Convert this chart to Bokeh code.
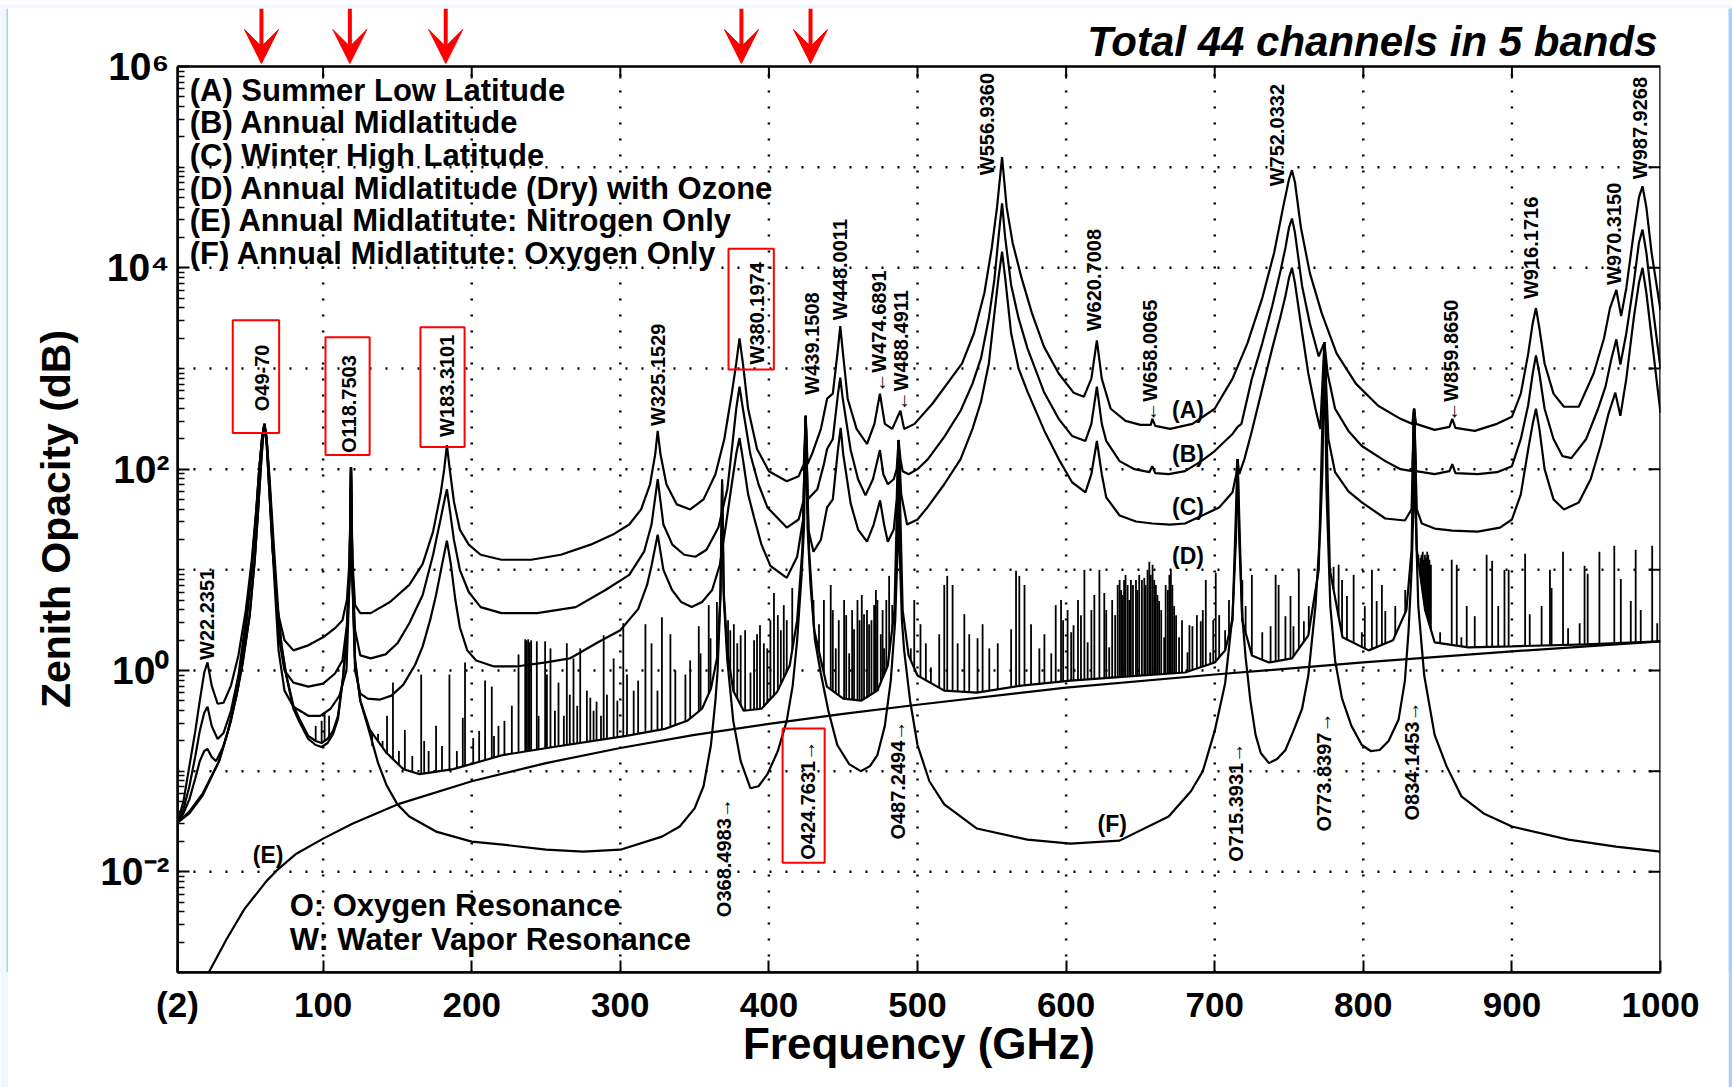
import numpy as np
from bokeh.plotting import figure
from bokeh.layouts import column, row
from bokeh.models import Range1d, FixedTicker, Arrow, VeeHead, ColumnDataSource
from bokeh.core.properties import value
from bokeh.embed import file_html
from bokeh.resources import INLINE

# ---------------- data (log10 of zenith opacity) ----------------
a_freq = [2, 6, 10, 14, 17, 20, 22.2, 25, 29, 33, 38, 43, 48, 52, 55, 57, 59, 60.5, 62, 64,
          67, 70, 74, 80, 90, 100, 108, 113, 116, 117.8, 118.75, 119.7, 121.5, 125, 132, 145,
          158, 167, 174, 179, 181.5, 183.3, 185.2, 188, 192, 198, 206, 220, 240, 260, 280, 295,
          306, 314, 320, 323.5, 325.15, 327, 331, 338, 347, 356, 364, 370, 375, 378, 380.2,
          382.5, 386, 392, 400, 412, 420, 423.5, 424.76, 426, 429, 435, 439.15, 443, 446.5, 448,
          449.5, 453, 459, 466, 471, 474.7, 478, 483, 486, 488.5, 491, 498, 510, 520, 530, 538,
          545, 550, 553.5, 556.9, 560, 564, 570, 577, 585, 595, 605, 612, 617, 620.7, 624, 630,
          640, 650, 657, 658, 660, 670, 685, 700, 712, 722, 732, 740, 746, 750, 752, 754, 758,
          764, 772, 782, 795, 810, 825, 833, 834.15, 835.5, 848, 858, 859.9, 862, 875, 890, 900,
          906, 911, 914, 916.2, 918.5, 922, 928, 935, 945, 955, 962, 966, 970.3, 973.5, 977,
          982, 985.5, 987.9, 990.5, 994, 1000]
a_log = [-1.51, -1.3, -0.95, -0.6, -0.3, -0.02, 0.08, -0.15, -0.33, -0.32, -0.15, 0.15, 0.6,
         1.1, 1.6, 2.0, 2.32, 2.45, 2.3, 1.9, 1.2, 0.55, 0.3, 0.2, 0.25, 0.33, 0.42, 0.5, 0.7,
         1.1, 2.02, 1.1, 0.65, 0.57, 0.57, 0.68, 0.85, 1.06, 1.38, 1.75, 2.0, 2.24, 2.0, 1.68,
         1.4, 1.25, 1.15, 1.1, 1.1, 1.15, 1.25, 1.35, 1.45, 1.6, 1.85, 2.15, 2.38, 2.15, 1.85,
         1.65, 1.6, 1.7, 1.95, 2.3, 2.75, 3.05, 3.3, 3.05, 2.6, 2.2, 1.98, 1.88, 1.93, 2.05, 2.53,
         2.05, 2.15, 2.4, 2.7, 2.75, 3.2, 3.42, 3.2, 2.7, 2.4, 2.25, 2.45, 2.75, 2.45, 2.4, 2.5,
         2.58, 2.4, 2.45, 2.65, 2.85, 3.05, 3.35, 3.75, 4.2, 4.6, 5.1, 4.6, 4.25, 3.9, 3.55,
         3.22, 2.95, 2.76, 2.72, 2.9, 3.28, 2.9, 2.6, 2.48, 2.44, 2.44, 2.5, 2.43, 2.4, 2.45,
         2.6, 2.9, 3.25, 3.7, 4.15, 4.6, 4.88, 4.97, 4.85, 4.4, 3.95, 3.55, 3.15, 2.85, 2.63,
         2.5, 2.45, 2.6, 2.45, 2.39, 2.42, 2.5, 2.41, 2.38, 2.45, 2.52, 2.75, 3.15, 3.45, 3.6,
         3.4, 3.05, 2.75, 2.62, 2.62, 2.95, 3.3, 3.6, 3.78, 3.52, 3.8, 4.35, 4.7, 4.81, 4.6,
         4.15, 3.58]

b_freq = [2, 6, 10, 14, 17, 20, 22.2, 25, 29, 33, 38, 43, 48, 52, 55, 57, 59, 60.5, 62, 64,
          67, 70, 74, 80, 90, 100, 108, 113, 116, 117.8, 118.75, 119.7, 121.5, 125, 132, 142,
          150, 158, 167, 174, 179, 181.5, 183.3, 185.2, 188, 192, 198, 206, 220, 244, 270, 290,
          306, 316, 321, 325.15, 329, 335, 343, 350.5, 358, 366, 372, 375, 378, 380.2, 382.5,
          387.6, 393, 399, 412, 420, 423.5, 424.76, 426, 432.6, 437, 439.15, 443, 446.5, 448,
          449.5, 455, 460, 465, 470, 474.7, 477, 480, 484, 486, 487.25, 488.5, 490, 494, 500,
          507, 518, 529, 537, 542.7, 548, 551.7, 554.5, 556.9, 559, 563, 568, 574, 585, 595, 604,
          613, 617, 620.7, 624, 627, 636, 646, 656, 658, 660, 669, 680, 691, 700, 707, 712,
          715.4, 718, 725, 732, 738.7, 744, 747.6, 750, 752, 754, 758.8, 764, 770, 773.84, 776,
          781, 790, 799, 814.8, 825, 833, 834.15, 835.5, 848, 858, 859.9, 862, 877, 890, 900,
          906, 911, 914, 916.2, 918.5, 922, 928, 934, 940, 950, 958, 963, 967, 970.3, 973, 977,
          982, 985.5, 987.9, 990.5, 994, 1000]
b_log = [-1.51, -1.38, -1.15, -0.85, -0.6, -0.42, -0.36, -0.55, -0.68, -0.62, -0.4, -0.05,
         0.5, 1.05, 1.58, 2.0, 2.32, 2.45, 2.3, 1.85, 1.05, 0.35, 0.0, -0.12, -0.16, -0.13,
         -0.03, 0.1, 0.45, 1.0, 2.02, 1.0, 0.4, 0.15, 0.12, 0.16, 0.27, 0.47, 0.75, 1.15, 1.5,
         1.68, 1.8, 1.6, 1.3, 1.0, 0.78, 0.63, 0.57, 0.57, 0.63, 0.8, 0.95, 1.18, 1.45, 1.9,
         1.45, 1.25, 1.15, 1.13, 1.2, 1.42, 1.8, 2.19, 2.6, 2.82, 2.6, 2.14, 1.85, 1.62, 1.42,
         1.5, 1.7, 2.53, 1.7, 1.8, 2.05, 2.2, 2.3, 2.75, 2.91, 2.72, 2.19, 1.9, 1.74, 1.9, 2.19,
         1.95, 1.85, 1.9, 2.0, 2.29, 2.1, 1.98, 1.95, 2.0, 2.1, 2.32, 2.58, 2.85, 3.1, 3.5, 3.88,
         4.3, 4.64, 4.3, 3.83, 3.5, 3.2, 2.77, 2.5, 2.33, 2.28, 2.45, 2.82, 2.45, 2.28, 2.08,
         2.0, 1.97, 2.03, 1.96, 1.95, 1.98, 2.08, 2.18, 2.28, 2.35, 2.42, 2.45, 2.9, 3.25, 3.62,
         3.95, 4.2, 4.4, 4.49, 4.35, 3.82, 3.45, 3.12, 3.26, 2.95, 2.6, 2.38, 2.23, 2.08, 2.0,
         1.98, 2.6, 1.98, 1.95, 1.98, 2.05, 1.96, 1.95, 1.97, 2.03, 2.3, 2.64, 2.95, 3.13, 2.95,
         2.6, 2.3, 2.13, 2.11, 2.3, 2.6, 2.82, 3.1, 3.29, 3.04, 3.35, 3.85, 4.25, 4.38, 4.15,
         3.7, 3.0]

c_freq = [2, 6, 10, 14, 17, 20, 22.2, 25, 28, 33, 38, 43, 48, 52, 55, 57, 59, 60.5, 62, 64,
          67, 70, 74, 80, 90, 98, 105, 111, 115.7, 117.8, 118.75, 119.7, 121.5, 125, 130, 138,
          146, 154, 162, 167, 172, 176, 180, 183.3, 186, 189, 192, 197, 203, 215, 230, 250, 266,
          285, 300, 312, 318, 321, 325.15, 329, 334.8, 341, 348, 355, 361.8, 367, 370.8, 375,
          378, 380.2, 382.5, 386, 390, 395, 401, 412, 419, 423, 424.76, 426.5, 430, 435, 439.15,
          443, 446.5, 448.3, 450, 455, 460, 466, 470.5, 474.8, 477.5, 480, 484, 486, 487.25, 489,
          493, 500, 506.7, 518, 529, 537, 542.7, 548, 551.7, 554.5, 556.9, 559, 563, 568, 574,
          585.4, 595, 604, 613, 617, 620.7, 624, 627, 636, 647, 658, 670, 680, 693, 703, 712,
          714.5, 715.4, 716.5, 720, 725, 732, 738.7, 744, 747.6, 750, 752, 754, 758.8, 763,
          767.8, 771, 773.84, 776.5, 781, 790, 799, 814.8, 828, 832.5, 834.15, 836, 839.4, 848,
          860, 877, 892, 900, 906, 911, 914, 916.2, 918.5, 922, 928, 935, 945, 953, 960, 965,
          969.6, 973, 977, 982, 985.5, 987.9, 990.5, 994, 1000]
c_log = [-1.51, -1.42, -1.28, -1.07, -0.9, -0.8, -0.78, -0.86, -0.9, -0.75, -0.5, -0.15, 0.4,
         1.0, 1.55, 2.0, 2.32, 2.45, 2.3, 1.8, 0.95, 0.2, -0.2, -0.36, -0.45, -0.45, -0.38,
         -0.25, 0.0, 0.9, 2.02, 0.9, 0.0, -0.23, -0.28, -0.29, -0.25, -0.14, 0.06, 0.24, 0.5,
         0.75, 1.05, 1.29, 1.05, 0.7, 0.43, 0.2, 0.1, 0.04, 0.04, 0.08, 0.12, 0.28, 0.4, 0.61,
         0.85, 1.04, 1.35, 1.0, 0.8, 0.68, 0.63, 0.68, 0.8, 1.05, 1.42, 1.85, 2.15, 2.31, 2.1,
         1.75, 1.52, 1.25, 1.04, 0.92, 1.13, 1.5, 2.53, 1.4, 1.18, 1.3, 1.62, 1.7, 2.2, 2.41,
         2.15, 1.66, 1.4, 1.28, 1.45, 1.69, 1.45, 1.28, 1.4, 1.7, 2.29, 1.75, 1.45, 1.5, 1.62,
         1.85, 2.1, 2.4, 2.67, 3.05, 3.54, 3.9, 4.16, 3.9, 3.35, 3.0, 2.77, 2.38, 2.1, 1.87,
         1.77, 1.95, 2.28, 1.95, 1.72, 1.54, 1.48, 1.46, 1.45, 1.46, 1.55, 1.62, 1.77, 1.95,
         2.1, 1.95, 2.1, 2.38, 2.8, 3.2, 3.5, 3.72, 3.9, 4.0, 3.85, 3.36, 2.95, 2.6, 2.4, 3.26,
         2.3, 1.97, 1.78, 1.67, 1.51, 1.49, 1.6, 2.6, 1.6, 1.46, 1.41, 1.39, 1.38, 1.42, 1.5,
         1.75, 2.2, 2.45, 2.6, 2.4, 2.0, 1.7, 1.6, 1.67, 1.9, 2.25, 2.55, 2.76, 2.53, 2.9, 3.5,
         3.85, 4.0, 3.75, 3.31, 2.56]

d_freq = [2, 10, 19, 30, 36, 41.6, 46, 50.6, 54, 56, 58, 59.5, 60.5, 62, 64, 66, 68.5, 72, 75,
          80, 84, 90, 95, 99, 103, 106.7, 110, 113.5, 116, 117.8, 118.75, 119.7, 121.5, 125,
          131.5, 142.7, 154, 165, 187.6, 221, 255, 304, 330, 345, 355, 361, 365.4, 367.5, 368.5,
          369.5, 372, 376, 383, 395, 405.6, 414, 419, 422.5, 424.76, 427, 430.5, 439, 450, 462,
          473, 480, 484.5, 487.25, 490, 494, 500, 518, 540, 570, 603, 640, 680, 700, 707, 712,
          715.4, 718.5, 725, 736.5, 752, 763, 770, 773.84, 777.5, 786, 803.6, 820, 829, 832.5,
          834.15, 836, 841.6, 848, 870.7, 900, 950, 1000]
d_log = [-1.51, -1.4, -1.22, -0.9, -0.6, -0.24, 0.1, 0.55, 1.1, 1.53, 2.0, 2.31, 2.45, 2.25,
         1.73, 1.2, 0.75, 0.25, -0.03, -0.35, -0.48, -0.65, -0.7, -0.72, -0.68, -0.6, -0.45,
         -0.05, 0.4, 0.95, 2.02, 0.95, 0.1, -0.3, -0.59, -0.82, -0.98, -1.03, -0.98, -0.84,
         -0.76, -0.65, -0.58, -0.5, -0.38, -0.18, 0.15, 0.8, 1.85, 0.8, 0.2, -0.2, -0.4, -0.38,
         -0.21, 0.05, 0.5, 1.2, 2.53, 1.2, 0.4, -0.16, -0.28, -0.3, -0.2, 0.05, 0.6, 2.29, 0.6,
         0.15, -0.05, -0.2, -0.22, -0.15, -0.1, -0.06, -0.02, 0.08, 0.2, 0.5, 2.1, 0.5, 0.15,
         0.08, 0.12, 0.35, 1.0, 3.26, 1.0, 0.33, 0.2, 0.3, 0.6, 1.2, 2.6, 1.2, 0.6, 0.28, 0.23,
         0.24, 0.26, 0.29]

e_freq = [23, 35, 47, 62, 70, 82, 100, 120, 150, 200, 250, 300, 350, 400, 450, 500, 600, 700,
          800, 900, 1000]
e_log = [-3.0, -2.67, -2.37, -2.09, -1.97, -1.82, -1.67, -1.52, -1.33, -1.1, -0.92, -0.77,
         -0.64, -0.53, -0.43, -0.34, -0.17, -0.04, 0.08, 0.19, 0.29]

f_freq = [2, 10, 19, 30, 36, 41.6, 46, 50.6, 54, 56, 58, 59.5, 60.5, 62, 64, 66, 68.5, 72, 75,
          80, 84, 90, 95, 99, 103, 106.7, 110, 113.5, 116, 117.8, 118.75, 119.7, 121.5, 125,
          131.5, 137, 142.7, 150, 158, 176, 200, 221, 250, 275, 300, 328, 340, 350, 356, 361,
          364, 365.4, 367.3, 368.5, 369.7, 372, 376, 381, 387.6, 393, 399, 406, 412, 416, 419,
          422, 423.6, 424.76, 426, 428, 431, 434.8, 440, 446, 454, 461.8, 468, 473, 478, 482,
          485, 486.5, 487.25, 488, 489.5, 491, 495, 500, 508, 518, 540, 574, 603, 636, 669, 684,
          692, 700, 707, 712, 714.3, 715.4, 716.5, 718.5, 720.8, 724, 727.5, 731, 736.5, 742,
          747.6, 753, 758.8, 763, 767.8, 771, 772.5, 773.84, 775.2, 777.8, 781, 785.7, 792, 799,
          805, 811, 817, 823.7, 828, 830.4, 832.5, 833.8, 834.15, 835, 837, 841, 848, 856, 866,
          881, 900, 938, 970, 1000]
f_log = [-1.51, -1.42, -1.24, -0.9, -0.6, -0.26, 0.08, 0.55, 1.1, 1.53, 2.0, 2.31, 2.45, 2.25,
         1.73, 1.2, 0.75, 0.25, -0.04, -0.38, -0.51, -0.68, -0.74, -0.76, -0.72, -0.63, -0.48,
         -0.06, 0.4, 0.95, 2.02, 0.95, 0.1, -0.3, -0.63, -0.92, -1.14, -1.33, -1.45, -1.6,
         -1.7, -1.73, -1.78, -1.8, -1.78, -1.65, -1.55, -1.37, -1.15, -0.74, -0.3, -0.02, 0.7,
         1.9, 0.7, 0.1, -0.5, -0.9, -1.17, -1.15, -1.03, -0.8, -0.5, -0.15, 0.3, 0.95, 1.42,
         2.53, 1.42, 0.85, 0.3, -0.02, -0.4, -0.74, -0.93, -1.0, -0.95, -0.84, -0.55, -0.1, 0.5,
         1.18, 2.29, 1.18, 0.5, 0.2, -0.3, -0.74, -1.1, -1.33, -1.57, -1.68, -1.72, -1.69,
         -1.45, -1.2, -1.0, -0.6, -0.13, 0.55, 1.3, 2.1, 1.3, 0.55, 0.13, -0.3, -0.64, -0.82,
         -0.92, -0.88, -0.79, -0.6, -0.38, -0.05, 0.64, 1.4, 2.0, 3.26, 1.8, 0.64, 0.1, -0.28,
         -0.55, -0.74, -0.8, -0.79, -0.7, -0.49, -0.1, 0.38, 1.0, 1.67, 2.6, 1.67, 0.64, -0.05,
         -0.64, -0.95, -1.25, -1.42, -1.55, -1.68, -1.75, -1.8]

# ozone lines of curve (D): line frequency and log10 of peak
ozone_freq = [95, 99, 101, 104, 133, 137, 140, 143, 147, 151,
              155, 160, 166, 168, 171, 176, 180, 185, 190, 194,
              195.5, 201, 205, 209, 213.5, 215, 218, 222, 227, 231.5,
              236, 237, 238, 239, 240, 243.8, 245, 249.4, 250.6, 253,
              256, 258.4, 262, 264, 266, 268.5, 271, 273, 277.5, 279.8,
              282, 284, 287, 288.8, 291, 295.5, 298, 302, 304.5, 309,
              312, 316.9, 321, 325, 328, 333.7, 337, 343.8, 347, 352.8,
              354, 359.5, 360.7, 365, 376.4, 378.7, 387.6, 392, 396.6, 398.9,
              403.4, 410, 415.7, 430, 433.7, 437, 441.6, 445, 450.6, 454,
              457.3, 459.6, 464, 467.4, 470.8, 473, 475.3, 477.5, 480.9, 483,
              495.5, 497.8, 502, 505.6, 509, 514.6, 518, 520, 523.6, 527,
              531.5, 534.8, 540.4, 543.8, 548.3, 554, 563, 566.3, 568.5, 572,
              576.4, 582, 585.4, 590, 593, 596.6, 603.4, 612.3, 614.5, 622.4,
              625.7, 629, 634.7, 637, 639, 641.4, 643.6, 647, 649.2, 652.6,
              654.8, 656, 658.2, 660.4, 662.6, 666, 667, 670.5, 672.7, 676,
              681.7, 685, 690.6, 694, 697, 700.7, 707, 709.6, 718.6, 720.8,
              725, 732, 737.6, 741, 743, 747.6, 751, 753, 756.6, 760,
              763.3, 780, 783.4, 785.7, 789, 793.5, 799, 801, 805.8, 809,
              812.5, 814.8, 821.5, 828.2, 837, 838.5, 840, 841.5, 843, 844.5,
              851.7, 859.5, 862.9, 866, 869.6, 875, 883, 886.7, 890.8, 895,
              897.8, 908.9, 912, 920, 925.6, 926.7, 934.4, 937.8, 945.6, 948.9,
              951, 958.9, 968.9, 973.3, 980, 983.3, 986.7, 994.4, 997.8,
              372.5, 374, 381, 384, 390, 394, 401, 406, 408, 412,
              443, 447, 452, 456, 461, 462.5, 466, 469, 472, 476.5,
              479, 598, 601, 605, 608, 610, 617, 619, 627, 631,
              633, 636, 638, 640, 642.5, 645, 648, 651, 653.5, 657,
              659.3, 661.5, 664, 668.5, 669.5, 671.5, 674, 678, 683, 688,
              692, 699, 703, 836.5, 839.2, 840.7, 842.2, 843.7, 845.5]
ozone_log = [-0.55, -0.5, -0.42, -0.45, -0.75, -0.63, -0.7, -0.45, -0.12, -0.8,
             -0.59, -0.85, -0.04, -0.7, -0.8, -0.55, -0.75, -0.04, -0.8, -0.47,
             0.08, -0.67, -0.6, -0.1, -0.16, -0.65, -0.55, -0.5, -0.35, 0.16,
             0.31, 0.3, 0.31, 0.28, 0.3, 0.29, -0.45, 0.29, -0.04, 0.22,
             -0.4, -0.12, -0.45, 0.27, -0.24, 0.12, -0.35, 0.22, -0.2, -0.27,
             -0.4, -0.31, -0.45, 0.35, -0.24, 0.12, -0.3, 0.47, -0.04, -0.2,
             -0.1, 0.46, 0.27, -0.2, 0.53, 0.36, 0.0, -0.04, 0.1, 0.44,
             0.17, 0.65, 0.32, 0.68, 0.46, 0.27, -0.02, 0.36, 0.27, 0.22,
             0.77, 0.65, 0.82, 0.7, 0.46, 0.7, 0.85, 0.22, 0.7, 0.17,
             0.41, 0.7, 0.56, 0.46, 0.65, 0.7, 0.36, 0.22, 0.94, 0.65,
             0.22, 0.7, 0.46, 0.27, 0.03, 0.36, 0.85, 0.94, 0.85, 0.27,
             0.56, 0.36, 0.32, 0.46, 0.22, 0.27, 0.41, 0.99, 0.94, 0.85,
             0.46, 0.22, 0.36, 0.17, 0.65, 0.7, 0.38, 1.0, 0.28, 1.0,
             0.77, 0.23, 0.85, 0.8, 0.9, 0.85, 0.9, 0.9, 0.95, 0.92,
             1.0, 1.08, 1.05, 0.85, 0.69, 0.33, 0.85, 1.0, 0.64, 0.33,
             0.18, 0.44, 0.49, 0.9, 0.18, 0.97, 0.4, 0.7, 0.9, 0.64,
             0.95, 0.38, 0.44, 0.95, 0.85, 0.54, 0.74, 0.44, 1.0, 0.49,
             0.64, 1.03, 1.05, 0.9, 0.74, 0.95, 0.38, 0.64, 1.0, 0.69,
             0.85, 0.59, 0.64, 0.8, 1.15, 1.12, 1.18, 1.15, 1.18, 1.1,
             0.38, 1.1, 1.05, 0.33, 0.64, 0.54, 1.15, 1.09, 0.64, 1.0,
             1.0, 1.16, 0.56, 0.64, 1.0, 0.82, 1.18, 0.42, 0.47, 1.04,
             0.96, 1.18, 1.24, 0.91, 0.69, 1.2, 0.6, 1.24, 0.47,
             0.5, 0.4, 0.35, 0.4, 0.3, 0.45, 0.5, 0.55, 0.4, 0.5,
             0.6, 0.5, 0.55, 0.6, 0.5, 0.75, 0.6, 0.5, 0.8, 0.6,
             0.7, 0.5, 0.6, 0.45, 0.7, 0.55, 0.6, 0.75, 0.6, 0.7,
             0.55, 0.9, 0.75, 0.95, 0.7, 0.85, 0.8, 0.9, 0.85, 0.95,
             0.9, 0.75, 0.6, 0.8, 0.95, 0.85, 0.55, 0.5, 0.45, 0.55,
             0.6, 0.5, 0.55, 1.1, 1.15, 1.1, 1.12, 1.15, 1.05]

x_ticks = [2, 100, 200, 300, 400, 500, 600, 700, 800, 900, 1000]
x_grid = [100, 200, 300, 400, 500, 600, 700, 800, 900]
y_labelled = [1e-2, 1, 1e2, 1e4, 1e6]
y_grid = [1e-2, 1e-1, 1, 10, 100, 1e3, 1e4, 1e5]

legend_lines = ["(A) Summer Low Latitude", "(B) Annual Midlatitude", "(C) Winter High Latitude",
                "(D) Annual Midlatitude (Dry) with Ozone", "(E) Annual Midlatitute: Nitrogen Only",
                "(F) Annual Midlatitute: Oxygen Only"]

line_labels = ["W22.2351", "O49-70", "O118.7503", "W183.3101", "W325.1529", "W380.1974",
               "W439.1508", "W448.0011", "\u2190W474.6891", "\u2190W488.4911", "W556.9360",
               "W620.7008", "\u2190W658.0065", "W752.0332", "\u2190W859.8650", "W916.1716",
               "W970.3150", "W987.9268", "O368.4983\u2192", "O424.7631\u2192", "O487.2494\u2192",
               "O715.3931\u2192", "O773.8397\u2192", "O834.1453\u2192"]
label_freq = [22.1, 59.2, 117.2, 183.3, 325.2, 392.1, 429.3, 447.9, 473.9, 488.7, 546.7, 618.8,
              656.7, 742.1, 858.8, 913.1, 968.8, 985.9, 369.8, 426.3, 487.2, 714.6, 773.3, 832.8]
label_log = [0.105, 2.575, 2.16, 2.32, 2.43, 3.04, 2.74, 3.48, 2.76, 2.575, 4.92, 3.37, 2.47,
             4.81, 2.47, 3.69, 3.83, 4.88, -2.45, -1.88, -1.68, -1.9, -1.6, -1.49]

curve_tags = ["(A)", "(B)", "(C)", "(D)", "(E)", "(F)"]
tag_freq = [682, 682, 682, 682, 63, 631]
tag_log = [2.59, 2.15, 1.62, 1.14, -1.83, -1.52]

# highlighted channels (red boxes round labels; red arrows on top)
box_left = [39.2, 101.6, 165.5, 372.8, 409.2]
box_right = [70.4, 131.3, 195.2, 403.3, 437.5]
box_bottom = [2.36, 2.14, 2.22, 2.99, -1.91]
box_top = [3.48, 3.31, 3.41, 4.19, -0.575]
arrow_freq = [58.5, 118.0, 182.5, 381.5, 428.0]

# ---------------- geometry ----------------
W, H = 1732, 1087
EDGE_L, EDGE_T, EDGE_R = 8, 8, 4          # page frame strips
LEFT, RIGHT, TOP, BOTTOM = 177, 72, 66, 115  # box position in the page
FN = "Liberation Sans"
FONT = value(FN)
XPX = (W - LEFT - RIGHT) / 998.0          # px per GHz
YPX = (H - TOP - BOTTOM) / 9.0            # px per decade
LIGHT, EDGE = "#f1f7ff", "#a9cff6"
NB = "\u00a0"


def cx(px):      # page x pixel -> data x
    return 2 + (px - LEFT) / XPX


def cy(py):      # page y pixel -> data y
    return 10.0 ** (6 - (py - TOP) / YPX)


def lv(a):
    return 10.0 ** np.asarray(a, dtype=float)


# ---------------- main figure ----------------
PW, PH = W - EDGE_L - EDGE_R, H - EDGE_T
p = figure(width=PW, height=PH, x_range=Range1d(2, 1000), y_range=Range1d(1e-3, cy(EDGE_T)),
           y_axis_type="log", output_backend="svg", toolbar_location=None, title=None,
           min_border_left=LEFT - EDGE_L, min_border_right=W - EDGE_R - (W - RIGHT),
           min_border_top=0, min_border_bottom=BOTTOM,
           background_fill_color="white", border_fill_color="white")
p.outline_line_color = None
p.xgrid.visible = False
p.ygrid.visible = False

minor = ([10.0 ** n for n in (-3, -1, 1, 3, 5)] +
         [k * 10.0 ** n for n in range(-3, 6) for k in range(2, 10)])
ylabels = {1e-2: "10\u207b\u00b2", 1: "10\u2070", 100: "10\u00b2", 1e4: "10\u2074",
           1e6: "10\u2076"}

xa = p.xaxis[0]
xa.ticker = FixedTicker(ticks=x_ticks)
xa.major_label_overrides = {2: "(2)"}
xa.bounds = (2, 1000)
ya = p.yaxis[0]
ya.ticker = FixedTicker(ticks=y_labelled, minor_ticks=minor)
ya.major_label_overrides = ylabels
ya.bounds = (1e-3, 1e6)

for ax in (xa, ya):
    ax.axis_line_width = 2.5
    ax.major_tick_in = 12
    ax.major_tick_out = 0
    ax.minor_tick_in = 7
    ax.minor_tick_out = 0
    ax.major_tick_line_width = 2
    ax.minor_tick_line_width = 1.5
    ax.major_label_text_font = FN
    ax.major_label_text_font_style = "bold"
    ax.major_label_text_color = "black"
    ax.axis_label_text_font = FN
    ax.axis_label_text_font_style = "bold"
    ax.axis_label_text_color = "black"

xa.major_label_text_font_size = "35px"
xa.major_label_standoff = 12
xa.axis_label = "Frequency (GHz)"
xa.axis_label_text_font_size = "44px"
xa.axis_label_standoff = -8
ya.major_label_text_font_size = "39px"
ya.major_label_standoff = 8
# trailing no-break spaces centre the rotated title on the box rather than the taller frame
ya.axis_label = "Zenith Opacity (dB)" + NB * 5
ya.axis_label_text_font_size = "41px"
ya.axis_label_standoff = 18

# dotted grid inside the box
p.segment(x0=x_grid, y0=[1e-3] * len(x_grid), x1=x_grid, y1=[1e6] * len(x_grid),
          line_color="black", line_width=2.5, line_dash="2 14")
p.segment(x0=[2] * len(y_grid), y0=y_grid, x1=[1000] * len(y_grid), y1=y_grid,
          line_color="black", line_width=2.5, line_dash="2 14")

# curves
foot = lv(np.interp(ozone_freq, d_freq, d_log))
p.segment(x0=ozone_freq, y0=foot, x1=ozone_freq, y1=lv(ozone_log), line_color="black",
          line_width=1.8)
for fr, lg in ((e_freq, e_log), (f_freq, f_log), (d_freq, d_log), (c_freq, c_log),
               (b_freq, b_log), (a_freq, a_log)):
    p.line(fr, lv(lg), line_color="black", line_width=2.2)

# box and inward ticks on the top and right sides
p.quad(left=[2], right=[1000], bottom=[1e-3], top=[1e6], fill_color=None,
       line_color="black", line_width=2.5)
p.segment(x0=x_grid, y0=[1e6] * len(x_grid), x1=x_grid, y1=[cy(TOP + 12)] * len(x_grid),
          line_color="black", line_width=2)
rt = [1e-2, 1e-1, 1, 10, 100, 1e3, 1e4, 1e5]
p.segment(x0=[1000] * len(rt), y0=rt, x1=[cx(W - RIGHT - 12)] * len(rt), y1=rt,
          line_color="black", line_width=2)

# texts
lab_src = ColumnDataSource(dict(x=label_freq, y=lv(label_log), t=line_labels))
p.text(x="x", y="y", text="t", source=lab_src, angle=np.pi / 2, text_align="left",
       text_baseline="middle", text_font=FONT, text_font_style="bold",
       text_font_size=value("20px"), text_color="black")

tag_src = ColumnDataSource(dict(x=tag_freq, y=lv(tag_log), t=curve_tags))
p.text(x="x", y="y", text="t", source=tag_src, text_align="center", text_baseline="middle",
       text_font=FONT, text_font_style="bold", text_font_size=value("23px"), text_color="black")

leg_src = ColumnDataSource(dict(x=[10.2] * 6, y=lv([5.76, 5.44, 5.12, 4.79, 4.47, 4.14]),
                                t=legend_lines))
p.text(x="x", y="y", text="t", source=leg_src, text_align="left", text_baseline="middle",
       text_font=FONT, text_font_style="bold", text_font_size=value("31px"), text_color="black")

note_src = ColumnDataSource(dict(x=[77.5, 77.5], y=lv([-2.33, -2.67]),
                                 t=["O: Oxygen Resonance", "W: Water Vapor Resonance"]))
p.text(x="x", y="y", text="t", source=note_src, text_align="left", text_baseline="middle",
       text_font=FONT, text_font_style="bold", text_font_size=value("31px"), text_color="black")

p.quad(left=box_left, right=box_right, bottom=lv(box_bottom), top=lv(box_top),
       fill_color=None, line_color="red", line_width=2)

# title and red arrows above the box
p.text(x=[cx(W - 75)], y=[cy(41)], text=["Total 44 channels in 5 bands"], text_align="right",
       text_baseline="middle", text_font=FONT, text_font_style="bold italic",
       text_font_size=value("42px"), text_color="black")
for fq in arrow_freq:
    p.add_layout(Arrow(x_start=fq, x_end=fq, y_start=cy(EDGE_T), y_end=cy(TOP - 3),
                       line_color="red", line_width=4,
                       end=VeeHead(size=34, fill_color="red", line_color="red")))


# ---------------- page frame strips ----------------
def strip(w, h, rects, bg):
    s = figure(width=w, height=h, x_range=Range1d(0, w), y_range=Range1d(h, 0),
               output_backend="svg", toolbar_location=None, title=None, min_border=0,
               x_axis_location=None, y_axis_location=None,
               background_fill_color=bg, border_fill_color=bg)
    s.grid.visible = False
    s.outline_line_color = None
    for l, r, t, b in rects:
        s.quad(left=[l], right=[r], top=[t], bottom=[b], fill_color=EDGE, line_color=None)
    return s


top_strip = strip(W, EDGE_T, [(6, W - EDGE_R, 6, EDGE_T)], LIGHT)
left_strip = strip(EDGE_L, PH, [(6, EDGE_L, 0, PH)], LIGHT)
right_strip = strip(EDGE_R, PH, [], EDGE)

page = column(top_strip, row(left_strip, p, right_strip, spacing=0), spacing=0)
open("out.html", "w").write(file_html(page, INLINE))
